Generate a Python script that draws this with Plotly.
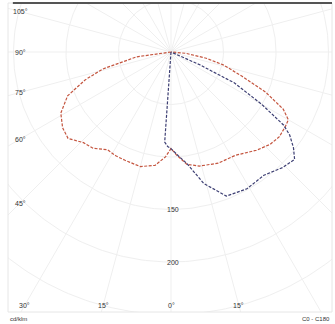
import numpy as np
import plotly.graph_objects as go

# ---- data (luminous intensity, cd/klm) ----
gamma_c0_c180 = [-90, -82, -76, -72, -67, -61, -55, -50, -44, -39, -33, -28, -23, -15, -8, -3, 0,
                 3, 8, 14, 23, 32, 41, 47, 52, 57, 60, 63, 67, 71, 76, 80, 85, 90]
intensity_c0_c180 = [0, 33, 67, 86, 107, 120, 126, 128, 120, 118, 111, 112, 112, 113, 109, 100, 92,
                     98, 108, 112, 115, 116, 124, 129, 131, 130, 129, 120, 98, 72, 52, 34, 14, 0]

gamma_c90_c270 = [-90, -5, -4, -2, 0, 4, 8, 14, 21, 29, 37, 44, 49, 52, 55, 57, 60, 64, 66, 67.5, 90]
intensity_c90_c270 = [0, 0, 86, 90, 92, 99, 107, 129, 147, 149, 147, 153, 156, 148, 138, 128, 100, 67, 30, 0, 0]

ring_values = [50, 100, 150, 200, 250, 300]
ring_label_values = [150, 200]
angle_ticks = [-105, -90, -75, -60, -45, -30, -15, 0, 15, 30, 45, 60, 75, 90, 105]
unit_left = "cd/klm"
unit_right = "C0 - C180"

# ---- geometry helpers ----
K = 1.05  # drawing scale of the polar diagram


def to_xy(gamma_deg, value):
    g = np.radians(np.asarray(gamma_deg, dtype=float))
    r = K * np.asarray(value, dtype=float)
    return r * np.sin(g), -r * np.cos(g)


XR = [-163, 161]
YR = [-260, 49]
GRID = "#efefef"

fig = go.Figure()

# grid circles
t = np.linspace(0, 2 * np.pi, 361)
for v in ring_values:
    fig.add_trace(go.Scatter(x=K * v * np.cos(t), y=K * v * np.sin(t), mode="lines",
                             line=dict(color=GRID, width=1), hoverinfo="skip", showlegend=False))
# grid rays
for a in range(-180, 180, 15):
    x, y = to_xy([a, a], [0, 500])
    fig.add_trace(go.Scatter(x=x, y=y, mode="lines", line=dict(color=GRID, width=1),
                             hoverinfo="skip", showlegend=False))

# curves
x0, y0 = to_xy(gamma_c0_c180, intensity_c0_c180)
fig.add_trace(go.Scatter(x=x0, y=y0, mode="lines", name="C0 - C180",
                         line=dict(color="#c4553f", width=1.2, dash="3px,1.5px"), showlegend=False))
x9, y9 = to_xy(gamma_c90_c270, intensity_c90_c270)
fig.add_trace(go.Scatter(x=x9, y=y9, mode="lines", name="C90 - C270",
                         line=dict(color="#3d3f73", width=1.2, dash="3px,1.5px"), showlegend=False))

# angle labels on an inner box
bx0, bx1, by0, by1 = -151, 159, -253, 44
annotations = []
lab_font = dict(size=7, color="#333", family="Liberation Sans")
for a in angle_ticks:
    g = np.radians(a)
    dx, dy = np.sin(g), -np.cos(g)
    cands = []
    if dx < -1e-9:
        cands.append((bx0 / dx, "left"))
    if dx > 1e-9:
        cands.append((bx1 / dx, "right"))
    if dy < -1e-9:
        cands.append((by0 / dy, "bottom"))
    if dy > 1e-9:
        cands.append((by1 / dy, "top"))
    tt, side = min(cands)
    lx, ly = tt * dx, tt * dy
    xanchor = "center"
    if side == "right" or (side == "bottom" and lx > 140):
        lx, xanchor = 163, "right"
    annotations.append(dict(x=lx, y=ly, text=f"{abs(a)}°", showarrow=False, xanchor=xanchor,
                            font=lab_font, xref="x", yref="y"))
for v in ring_label_values:
    px_, py_ = to_xy([0], [v])
    annotations.append(dict(x=float(px_[0]) + 2, y=float(py_[0]), text=str(v), showarrow=False,
                            font=lab_font, xref="x", yref="y"))

annotations.append(dict(x=0.0, y=-12 / 309, xref="paper", yref="paper", xanchor="left", yanchor="bottom",
                        text=unit_left, showarrow=False, font=dict(size=6, color="#333", family="Liberation Sans")))
annotations.append(dict(x=1.0, y=-12 / 309, xref="paper", yref="paper", xanchor="right", yanchor="bottom",
                        text=unit_right, showarrow=False,
                        font=dict(size=6, color="#333", family="Liberation Sans")))

fig.update_layout(
    width=335, height=324,
    margin=dict(l=8, r=3, t=3, b=12),
    paper_bgcolor="white", plot_bgcolor="white",
    xaxis=dict(range=XR, visible=False, fixedrange=True),
    yaxis=dict(range=YR, visible=False, fixedrange=True),
    annotations=annotations,
    shapes=[
        dict(type="rect", xref="paper", yref="paper", x0=0, x1=1, y0=0, y1=1,
             line=dict(color="#e6e6e6", width=1)),
        dict(type="line", xref="paper", yref="paper", x0=0.015, x1=1, y0=1, y1=1,
             line=dict(color="#555", width=2)),
    ],
)

fig.write_html("out.html", config={"displayModeBar": False},
               post_script="document.body.style.margin='0';")
